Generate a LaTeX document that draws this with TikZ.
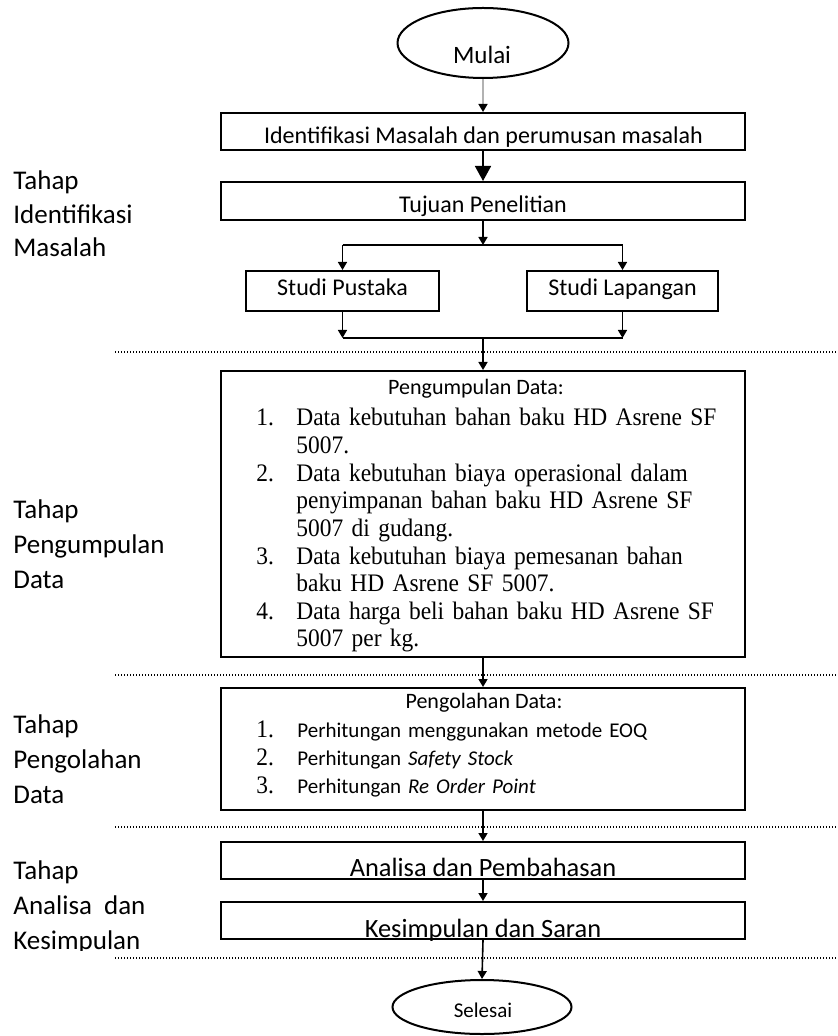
\documentclass[tikz,border=0pt]{standalone}
\usepackage{fontspec}
\setmainfont{Carlito}
\newfontfamily\timesfont[FakeStretch=0.93]{Liberation Serif}
\usetikzlibrary{shapes.geometric,arrows.meta}

% one numbered line of a list, stretched to the full width
\newcommand{\numline}[2]{\makebox[20pt][l]{#1}\makebox[206pt][s]{#2}}
\newcommand{\restline}[1]{\hspace*{20pt}#1}

\begin{document}
\begin{tikzpicture}[x=0.5pt, y=-0.5pt,
    box/.style={rectangle, draw, line width=1pt, minimum width=262pt, inner sep=0pt},
    studibox/.style={rectangle, draw, line width=1pt, minimum height=20pt, inner sep=0pt},
    terminal/.style={ellipse, draw, line width=1pt, inner sep=0pt},
    txt/.style={anchor=base, inner sep=0pt, font=\fontsize{12}{14}\selectfont},
    tahap/.style={anchor=base west, inner sep=0pt, align=left, text width=90pt, font=\fontsize{13.5}{17.5}\selectfont},
    arr/.style={-{Triangle[length=4pt,width=4.5pt]}, line width=0.8pt},
    sep/.style={line width=0.7pt, dash pattern=on 0.6pt off 0.9pt}]
  \useasboundingbox (0,0) rectangle (838,1036);

  % Nodes
  \node (mulai) [terminal, minimum width=85.5pt, minimum height=35pt] at (483,43) {};
  \node (mulaitxt) [txt, font=\fontsize{12.5}{14}\selectfont] at (482,64) {Mulai};

  \node (identifikasi) [box, minimum height=18.5pt] at (483,131.5) {};
  \node (identifikasitxt) [txt] at (483.5,144) {Identifikasi Masalah dan perumusan masalah};

  \node (tujuan) [box, minimum height=19pt] at (483,201) {};
  \node (tujuantxt) [txt] at (483,213) {Tujuan Penelitian};

  \node (pustaka) [studibox, minimum width=96.5pt] at (342.5,291) {};
  \node (pustakatxt) [txt] at (342.5,296) {Studi Pustaka};
  \node (lapangan) [studibox, minimum width=95.5pt] at (622.5,291) {};
  \node (lapangantxt) [txt] at (622.5,296) {Studi Lapangan};

  \node (kumpul) [box, minimum height=143pt] at (483,514) {};
  \node (kumpulhead) [txt, font=\fontsize{11}{13}\selectfont] at (476,395) {Pengumpulan Data:};
  \node (kumpullist) [anchor=base west, inner sep=0pt, align=left, text width=226pt,
      font=\timesfont\fontsize{12.6}{13.8}\selectfont] at (256,426) {%
    \numline{1.}{Data kebutuhan bahan baku HD Asrene SF}\\
    \restline{5007.}\\
    \numline{2.}{Data kebutuhan biaya operasional dalam}\\
    \restline{\makebox[206pt][s]{penyimpanan bahan baku HD Asrene SF}}\\
    \restline{5007 di gudang.}\\
    \numline{3.}{Data kebutuhan biaya pemesanan bahan}\\
    \restline{baku HD Asrene SF 5007.}\\
    \numline{4.}{Data harga beli bahan baku HD Asrene SF}\\
    \restline{5007 per kg.}};

  \node (olah) [box, minimum height=61pt] at (483,749) {};
  \node (olahhead) [txt, font=\fontsize{11}{13}\selectfont] at (484,708) {Pengolahan Data:};
  \node (olahlist) [anchor=base west, inner sep=0pt, align=left, text width=226pt,
      font=\fontsize{10.5}{14}\selectfont] at (256,737) {%
    \makebox[20.5pt][l]{\timesfont\fontsize{12.6}{14}\selectfont 1.}Perhitungan menggunakan metode EOQ\\
    \makebox[20.5pt][l]{\timesfont\fontsize{12.6}{14}\selectfont 2.}Perhitungan \textit{Safety Stock}\\
    \makebox[20.5pt][l]{\timesfont\fontsize{12.6}{14}\selectfont 3.}Perhitungan \textit{Re Order Point}};

  \node (analisa) [box, minimum height=18.5pt] at (483,860.5) {};
  \node (analisatxt) [txt, font=\fontsize{13.2}{15}\selectfont] at (483,876) {Analisa dan Pembahasan};

  \node (simpul) [box, minimum height=18.5pt] at (483,920.5) {};
  \begin{scope}
    \clip (simpul.south west) rectangle (simpul.north east);
    \node (simpultxt) [txt, font=\fontsize{13.2}{15}\selectfont] at (483,937) {Kesimpulan dan Saran};
  \end{scope}

  \node (selesai) [terminal, minimum width=89.5pt, minimum height=27pt] at (482,1007) {};
  \node (selesaitxt) [txt, font=\fontsize{10.5}{12}\selectfont] at (483,1017) {Selesai};

  % Tahap labels
  \node (tahap1) [tahap, font=\fontsize{13.5}{16.75}\selectfont] at (13,190) {Tahap\\Identifikasi\\Masalah};
  \node (tahap2) [tahap] at (13,518) {Tahap\\Pengumpulan\\Data};
  \node (tahap3) [tahap] at (13,733) {Tahap\\Pengolahan\\Data};
  \begin{scope}
    \clip (0,860) rectangle (200,950);
    \node (tahap4) [tahap] at (13,879) {Tahap\\Analisa\hspace{0.45em}dan\\Kesimpulan};
  \end{scope}

  % Stage borders
  \draw[sep] (115,352) -- (838,352);
  \draw[sep] (115,675) -- (838,675);
  \draw[sep] (115,827) -- (838,827);
  \draw[sep] (115,958) -- (838,958);

  % Arrows
  \coordinate (jtop) at (483,245);
  \coordinate (jbot) at (483,338);
  \draw[arr, draw=gray!60, -{Triangle[length=4pt,width=4.5pt,black]}] (mulai.south) -- (identifikasi.north);
  \draw[line width=0.8pt, -{Triangle[length=7.5pt,width=8pt]}] (identifikasi.south) -- (tujuan.north);
  \draw[arr] (tujuan.south) -- (jtop);
  \draw[line width=0.8pt] (pustaka.north |- jtop) -- (lapangan.north |- jtop);
  \draw[arr] (pustaka.north |- jtop) -- (pustaka.north);
  \draw[arr] (lapangan.north |- jtop) -- (lapangan.north);
  \draw[arr] (pustaka.south) -- (pustaka.south |- jbot);
  \draw[arr] (lapangan.south) -- (lapangan.south |- jbot);
  \draw[line width=0.8pt] (pustaka.south |- jbot) -- (lapangan.south |- jbot);
  \draw[arr] (jbot) -- (kumpul.north);
  \draw[arr] (kumpul.south) -- (olah.north);
  \draw[arr] (olah.south) -- (analisa.north);
  \draw[arr] (analisa.south) -- (simpul.north);
  \draw[arr] (simpul.south) -- (selesai.north);
\end{tikzpicture}
\end{document}
